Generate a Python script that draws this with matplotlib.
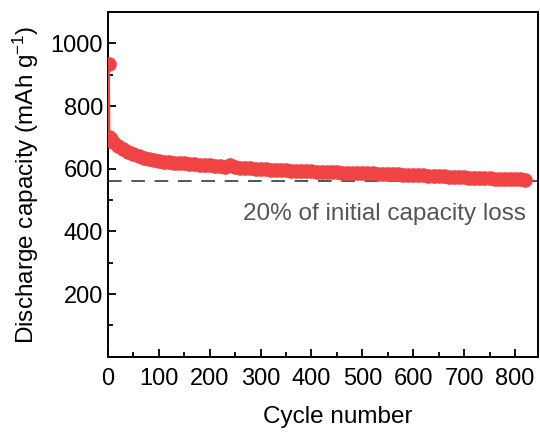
import matplotlib
matplotlib.use("Agg")
import matplotlib.pyplot as plt
from matplotlib.ticker import MultipleLocator

plt.rcParams['font.family'] = ['Liberation Sans', 'DejaVu Sans']
plt.rcParams['mathtext.fontset'] = 'custom'
plt.rcParams['mathtext.rm'] = 'Liberation Sans'
plt.rcParams['mathtext.it'] = 'Liberation Sans:italic'

# cycle numbers and discharge capacity (mAh g-1)
cycles = [1, 2, 4, 6, 8] + list(range(10, 830, 10))
capacity = [935, 702, 698, 694, 690,
            686, 672, 662, 652, 646, 640, 636, 631, 628, 625,
            623, 621, 620, 619, 617, 616, 615, 613, 612, 611,
            609, 608, 607, 611, 605, 603, 602, 601, 600, 599,
            598, 597, 597, 596, 595, 594, 594, 593, 592, 592,
            591, 590, 591, 589, 589, 588, 588, 587, 587, 586,
            586, 585, 584, 584, 583, 583, 582, 581, 581, 580,
            579, 579, 578, 577, 577, 576, 575, 575, 574, 573,
            572, 572, 571, 570, 570, 569, 568, 568, 567, 566,
            566, 565]
loss_line = 561  # 80% of initial capacity

fig = plt.figure(figsize=(5.4, 4.32), dpi=100)
ax = fig.add_axes([0.2, 0.174, 0.796, 0.798])

ax.plot(cycles, capacity, '-o', color='#F04343', lw=2, ms=9.5, mec='#F04343', zorder=3)
ax.axhline(loss_line, color='#555555', lw=1.4, ls=(0, (7, 5)), zorder=2)
ax.text(822, 455, '20% of initial capacity loss', color='#555555', fontsize=17.5,
        ha='right', va='center')

ax.set_xlim(0, 845)
ax.set_ylim(0, 1100)
ax.xaxis.set_major_locator(MultipleLocator(100))
ax.xaxis.set_minor_locator(MultipleLocator(50))
ax.yaxis.set_major_locator(MultipleLocator(200))
ax.yaxis.set_minor_locator(MultipleLocator(100))
ax.set_yticks([200, 400, 600, 800, 1000])
ax.tick_params(which='both', direction='in', labelsize=17, width=1.3)
ax.tick_params(which='major', length=6)
ax.tick_params(which='minor', length=3.5)
ax.tick_params(axis='x', pad=8)
for s in ax.spines.values():
    s.set_linewidth(1.4)

ax.set_xlabel('Cycle number', fontsize=17.5)
ax.xaxis.set_label_coords(0.535, -0.142)
ax.set_ylabel(r'Discharge capacity (mAh g$^{-1}$)', fontsize=17.5, labelpad=7)

fig.savefig('out.png', dpi=100)
